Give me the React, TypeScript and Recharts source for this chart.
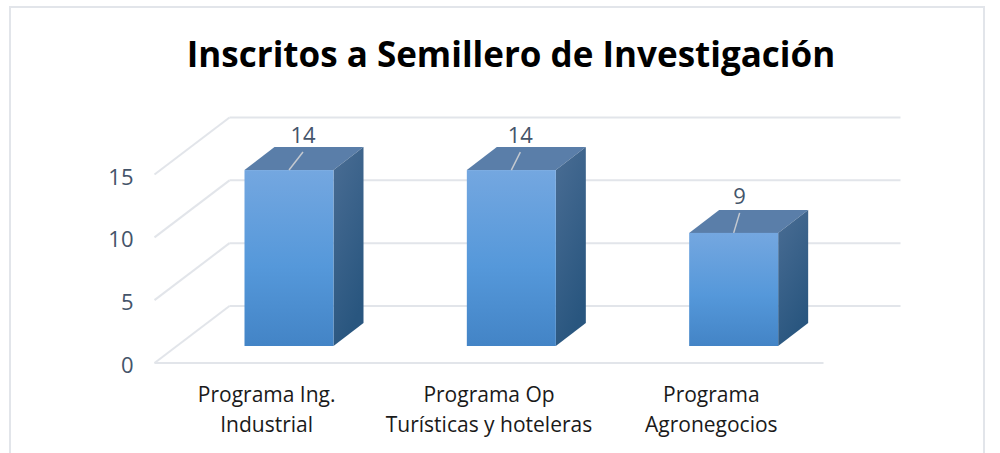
import { BarChart, Bar, XAxis, YAxis, CartesianGrid, LabelList } from 'recharts';

const categories = [
  ['Programa Ing.', 'Industrial'],
  ['Programa Op', 'Turísticas y hoteleras'],
  ['Programa', 'Agronegocios'],
];
const inscritos = [14, 14, 9];
const yTicks = [0, 5, 10, 15];

const data = categories.map((lines, i) => ({ name: lines.join(' '), lines, inscritos: inscritos[i] }));

// offset of the 3d box and of the floor, in px
const DEPTH_X = 30;
const DEPTH_Y = 23;
const FLOOR_FRONT = 17;
const FLOOR_BACK = 40;
const LEADER_DX = [14, 9, 6];
const LEADER_DY = [18, 18, 20];

const Box3D = (props: any) => {
  const { x, y, width, height } = props;
  const r = x + width;
  const b = y + height;
  return (
    <g>
      <polygon points={`${x},${y} ${x + DEPTH_X},${y - DEPTH_Y} ${r + DEPTH_X},${y - DEPTH_Y} ${r},${y}`} fill="#5a7ea9" />
      <polygon points={`${r},${y} ${r + DEPTH_X},${y - DEPTH_Y} ${r + DEPTH_X},${b - DEPTH_Y} ${r},${b}`} fill="url(#sideFill)" />
      <rect x={x} y={y} width={width} height={height} fill="url(#frontFill)" />
    </g>
  );
};

const GridLine = (props: any) => {
  const { x1, x2, y1, index } = props;
  // index 0 is the value 0 row
  const isZero = index === 0;
  const left = x1 - 23;
  return (
    <g stroke="#e2e5ea" strokeWidth={2} fill="none">
      <line x1={left} y1={y1 + FLOOR_FRONT} x2={left + 75} y2={y1 - FLOOR_BACK} />
      <line x1={left + 75} y1={y1 - FLOOR_BACK} x2={x2 + 56} y2={y1 - FLOOR_BACK} />
      {isZero && <line x1={left} y1={y1 + FLOOR_FRONT} x2={x2 - 21} y2={y1 + FLOOR_FRONT} />}
    </g>
  );
};

const YTick = (props: any) => {
  const { x, y, payload } = props;
  return (
    <text x={x - 36} y={y + 27} textAnchor="end" fontSize={22} fill="#44546a" fontFamily="'Open Sans'">
      {payload.value}
    </text>
  );
};

const XTick = (props: any) => {
  const { x, y, index } = props;
  return (
    <text textAnchor="middle" fontSize={21} fill="#1a1a1a" fontFamily="'Open Sans'">
      {categories[index].map((line, i) => (
        <tspan key={line} x={x - 22} y={y + 48 + i * 30}>{line}</tspan>
      ))}
    </text>
  );
};

const Leader = (props: any) => {
  const { x, y, width, value, index } = props;
  const cx = x + width / 2;
  const dx = LEADER_DX[index];
  const dy = LEADER_DY[index];
  return (
    <g>
      <line x1={cx} y1={y} x2={cx + dx} y2={y - dy} stroke="#c4c9d0" strokeWidth={1.5} />
      <text x={cx + dx} y={y - dy - 9} textAnchor="middle" fontSize={22} fill="#44546a" fontFamily="'Open Sans'">
        {value}
      </text>
    </g>
  );
};

export default function App() {
  return (
    <div style={{ position: 'absolute', left: 0, top: 0, width: 1000, height: 453, background: '#fff', overflow: 'hidden' }}>
      <div style={{ position: 'absolute', left: 9, top: 6, width: 976, height: 460, border: '2px solid #e2e5ea', boxSizing: 'border-box' }} />
      <div style={{ position: 'absolute', left: 11, width: 1000, top: 30, textAlign: 'center', fontFamily: "'Open Sans'", fontWeight: 700, fontSize: 35, lineHeight: '48px', color: '#000' }}>
        Inscritos a Semillero de Investigación
      </div>
      <div style={{ position: 'absolute', left: 0, top: 0 }}>
        <BarChart width={1000} height={453} data={data} margin={{ top: 157.5, right: 155.5, bottom: 47, left: 117.5 }}>
          <defs>
            <linearGradient id="frontFill" x1="0" y1="0" x2="0" y2="1">
              <stop offset="0%" stopColor="#74a7e0" />
              <stop offset="55%" stopColor="#5598da" />
              <stop offset="100%" stopColor="#4384c6" />
            </linearGradient>
            <linearGradient id="sideFill" x1="0" y1="0" x2="0.4" y2="1">
              <stop offset="0%" stopColor="#4a6d94" />
              <stop offset="100%" stopColor="#29567f" />
            </linearGradient>
          </defs>
          <CartesianGrid vertical={false} horizontal={GridLine} />
          <XAxis dataKey="name" height={60} axisLine={false} tickLine={false} tick={XTick} interval={0} />
          <YAxis width={60} domain={[0, 15]} ticks={yTicks} axisLine={false} tickLine={false} tick={YTick} />
          <Bar dataKey="inscritos" barSize={89} shape={Box3D} isAnimationActive={false}>
            <LabelList dataKey="inscritos" content={Leader} />
          </Bar>
        </BarChart>
      </div>
    </div>
  );
}
